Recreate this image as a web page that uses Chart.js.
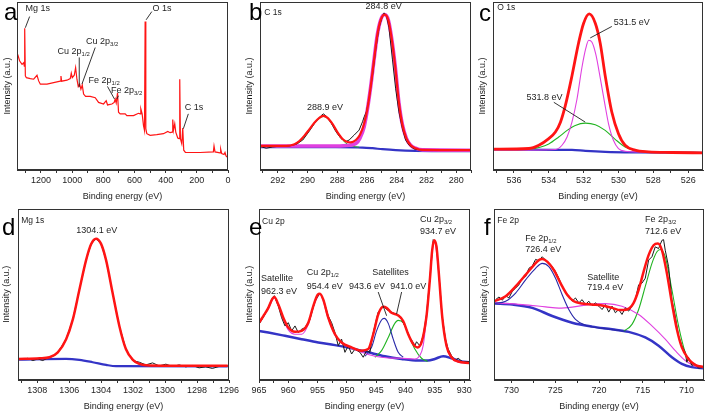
<!DOCTYPE html>
<html><head><meta charset="utf-8">
<script src="https://cdn.jsdelivr.net/npm/chart.js@4.4.0/dist/chart.umd.min.js"></script>
<style>
html,body{margin:0;padding:0;background:#fff;overflow:hidden;width:708px;height:414px;position:relative;}
.p{position:absolute;}
canvas{display:block;}
</style></head><body>
<div class="p" style="left:0;top:0"><canvas id="ca" width="250" height="207"></canvas></div>
<div class="p" style="left:236px;top:0"><canvas id="cb" width="250" height="207"></canvas></div>
<div class="p" style="left:472px;top:0"><canvas id="cc" width="236" height="207"></canvas></div>
<div class="p" style="left:0;top:207px"><canvas id="cd" width="250" height="207"></canvas></div>
<div class="p" style="left:236px;top:207px"><canvas id="ce" width="250" height="207"></canvas></div>
<div class="p" style="left:472px;top:207px"><canvas id="cf" width="236" height="207"></canvas></div>
<script>
// ---------- (a) survey ----------
const surveyE = [1349.5,1336.7,1321.7,1311,1306.8,1304.6,1300.4,1294,1268.3,1247,1225.6,1215,1204.3,1161.6,1118.9,1076.2,1071.9,1067.6,1033.5,1012.1,1005.7,999.3,986.5,977.9,969.4,960.9,952.3,943.8,935.2,926.7,913.9,884,852,830.6,798.6,781.5,773,745.2,730.3,723.9,717.4,708.9,702.5,691.8,659.8,649.1,606.4,574.4,563.7,559.4,550.9,542.4,535.9,531.7,527.4,521,499.7,456.9,414.3,386.5,371.5,358.7,354.5,350.2,341.7,335.2,322.5,313.9,309.6,305.4,296.8,290.4,284,273.3,179.4,94,89.7,83.3,51.3,47,40.6,25.6,19.2,12.8,0];
const surveyI = [116.7,110,106.7,108.3,105,143.3,95,93.3,92.3,91.7,95.7,90,86.7,86.7,88.3,89.7,95,89.7,90.7,92.3,97.7,93.3,95.7,103.3,91.7,84.3,86.7,81.7,85.7,76.7,74.3,74.3,73,68.3,66.7,70,65.7,66.7,68.3,71.7,67.7,77.7,58.3,56.7,56.7,55,55,57.3,56.7,61.7,56.7,45,40,150,41.7,36.7,35,35.7,36.7,39,37.7,38.3,51,40,46.7,38.3,32.3,31.7,91.7,31.7,26.7,42.3,20,17.7,17.7,18.3,24.3,18.3,17.3,21,16.7,15.7,17.7,14.3,12.3];

// ---------- (b) C 1s ----------
const c1sRawE = [293.18,292.78,292.34,291.89,291.22,290.77,290.32,289.88,289.43,289.1,288.94,288.76,288.43,288.09,287.76,287.42,287.2,286.86,286.53,286.3,286.19,286.04,285.86,285.63,285.41,285.19,284.96,284.85,284.69,284.52,284.29,284.07,283.85,283.62,283.4,283.18,282.84,282.51,281.39,279.02];
const c1sRawI = [23.7,22,23.3,24,24.3,26,30.3,39.3,49.3,54.7,56.7,54.7,48,38.7,32,28.7,30.3,35.3,40.3,48.7,53.7,58.7,72,95.3,122,143.7,155.3,158.7,156,143.7,112,82,58.7,42,30.3,25.3,21.3,20.3,20,19.7];
const c1sFitE = [293.18,291.44,290.88,290.55,290.21,289.88,289.54,289.21,288.94,288.65,288.31,287.98,287.64,287.31,287.09,286.75,286.48,286.19,285.97,285.74,285.52,285.3,285.07,284.81,284.56,284.34,284.11,283.85,283.62,283.35,283.06,282.73,282.28,279.02];
const c1sFitI = [24.3,24.3,26,29.3,34.7,41,47.7,52.7,54.7,52.7,46.3,38,31.3,28.3,28,30.3,35.3,47,62,85.3,112,137,152,157,151.3,133,106,68,46,32,25,22,20.3,20];
const c1sMainE = [293.18,288.09,287.2,286.75,286.48,286.19,285.97,285.74,285.52,285.3,285.07,284.81,284.56,284.34,284.11,283.85,283.62,283.35,283.06,282.73,282.28,279.02];
const c1sMainI = [24.3,24.3,25,26.7,32,43.7,61.3,85.3,112,137,152,157,151.3,133,106,68,46,32,25,22,20.3,20];
const c1sSideE = [293.18,291.44,290.88,290.55,290.21,289.88,289.54,289.21,288.94,288.65,288.31,287.98,287.64,287.31,286.97,286.53];
const c1sSideI = [23.3,23.3,25,28,33.7,40.3,47,52,54,52,45.3,37,30.3,26,24,23];
const c1sBgE = [293.18,288.09,286.3,285.63,284.96,284.07,282.73,279.02];
const c1sBgI = [23,23,22.7,22,21,20,19.3,19];

// ---------- (c) O 1s ----------
const o1sFitE = [537.14,535.14,534.57,534.0,533.62,533.33,533.05,532.67,532.29,532.0,531.68,531.33,531.05,530.76,530.38,530.0,529.62,529.05,528.28,526.95,525.14];
const o1sFitI = [21,21.7,25,31.7,38.3,48.3,65,95,128.3,148.3,157.7,148.3,128.3,95,58.3,36.7,25,20,18.3,17.7,17.3];
const o1sAE = [537.14,533.62,533.24,532.95,532.67,532.38,532.1,531.87,531.71,531.52,531.3,531.05,530.8,530.57,530.29,530.0,529.62,528.86,525.14];
const o1sAI = [20,20.7,25,33.3,48.3,71.7,103.3,123.3,131,129,116.7,93.3,68.3,46.7,30,21.7,19,18.3,17.7];
const o1sBE = [537.14,535.14,534.57,534.0,533.43,532.95,532.48,531.9,531.33,530.76,530.19,529.62,528.86,528.09,525.14];
const o1sBI = [20,20.7,22.7,26.3,33.3,40,45,47.3,45.7,40,31,23.3,19.3,18.3,17.7];
const o1sBgE = [537.14,532.67,531.9,530.76,528.86,525.14];
const o1sBgI = [20.7,20.3,19.3,18.3,17.7,17.3];

// ---------- (d) Mg 1s ----------
const mgFitE = [1309.21,1307.85,1307.23,1306.71,1306.19,1305.77,1305.36,1304.94,1304.63,1304.32,1304.01,1303.69,1303.28,1302.86,1302.45,1302.03,1301.61,1300.99,1296.08];
const mgFitI = [21.3,22,23,28,41.3,61.3,91.3,121.3,137.3,143,138,121.3,88,54.7,31.3,20.7,16.3,14.7,14.3];
const mgBgE = [1309.21,1306.19,1305.36,1304.53,1303.69,1303.07,1296.08];
const mgBgI = [20.7,21.3,20.3,18,15.3,14,13.7];
const mgRawE = [1309.21,1308.89,1308.58,1308.27,1307.96,1307.65,1307.33,1307.02,1306.71,1306.19,1305.77,1305.36,1304.94,1304.63,1304.32,1304.01,1303.69,1303.28,1302.86,1302.45,1302.03,1301.61,1301.2,1300.78,1300.37,1299.95,1299.53,1299.12,1298.7,1298.29,1297.87,1297.46,1297.04,1296.62,1296.08];
const mgRawI = [22,20.7,22,19.7,21.3,19.7,22.3,24,28,41.3,61.3,91.3,121.3,137.3,143,138,121.3,88,54.7,31.3,19.7,18,15.3,17.3,14.3,16,13.7,15.3,13.3,14.7,12.3,13.3,11.7,13.7,14.3];

// ---------- (e) Cu 2p ----------
const cuFitE = [965.0,964.26,963.41,962.73,962.39,961.7,960.85,960.0,958.86,957.73,956.59,955.74,955.0,954.6,954.03,953.18,952.04,950.91,949.2,947.5,946.36,945.51,944.66,943.81,943.24,942.39,941.25,940.4,939.54,938.69,937.95,937.27,936.42,935.85,935.45,935.11,934.71,934.32,933.75,933.01,932.16,931.02,929.15];
const cuFitI = [58,64.7,73,82,84,76.3,63,53,48.7,49.7,58,74.7,86.3,87.3,81.3,63,46.3,38,33,29.7,31.3,46.3,66.3,74,73,68,65.3,59.7,46.3,36.3,33,38,64.7,101.3,131.3,141.3,134.7,108,64.7,34.7,23,18.7,17.3];
const cuEnvE = [965.0,963.41,962.39,961.7,960.85,960.0,958.86,957.73,956.59,955.74,954.6,953.18,952.04,950.91,949.2,947.5,945.23,942.95,940.68,938.41,937.56,936.99,936.42,935.85,935.11,934.32,933.75,933.01,932.16,931.02,929.15];
const cuEnvI = [57.3,72,83,75.3,61.3,50.7,46.3,46.3,56.3,74,86.7,62,45.3,37.3,32,28,24,22.3,22,21.3,24.7,34.7,63,100.7,140.7,107.3,64,34,22.3,18,17];
const cuSatAE = [946.93,945.8,944.94,944.09,943.64,942.95,942.1,941.25,940.4];
const cuSatAI = [24,33,49.7,60.7,62.3,57.3,41.3,28,23];
const cuSatBE = [945.23,944.09,942.95,941.93,941.25,940.4,939.54,938.41,937.27,936.25];
const cuSatBI = [23,29.7,43,56.3,60.3,58,46.3,31.3,22,18.7];
const cuBgE = [965.0,963.41,960.57,957.73,954.89,952.04,949.2,946.36,943.52,940.68,937.84,936.14,935.0,933.58,932.16,930.45,929.15];
const cuBgI = [49.7,48,44.7,41.3,38,35.3,32,28,24,21.3,19.7,19.7,21.3,24,22,18.7,18];
const cuRawE = [965.0,963.98,962.84,962.39,961.7,961.14,960.57,960.0,959.43,958.86,958.3,957.73,957.16,956.31,955.45,954.6,954.03,953.18,952.61,952.04,951.48,950.91,950.34,949.77,949.2,948.64,947.78,947.22,946.65,946.08,945.51,944.66,943.81,943.24,942.39,941.53,940.97,940.4,939.83,939.26,938.69,938.41,938.12,937.56,936.99,936.42,935.85,935.28,934.71,934.32,933.75,933.18,932.73,932.16,931.59,931.02,930.17,929.15];
const cuRawI = [56.3,66.3,81.3,85.3,74.7,63,54.7,58,49.7,54.7,48,51.3,53,61.3,79.7,88,82,64.7,58,48,34.7,41.3,28,34.7,26.3,31.3,28,23,29.7,28,48,68.7,74.7,71.3,68.7,66.3,64.7,58,51.3,43,38,34.7,38.7,34.7,44.7,66.3,103,142,136.3,108,64.7,41.3,31.3,24.7,19.7,22,18,18.7];

// ---------- (f) Fe 2p ----------
const feFitE = [732.0,730.67,729.53,728.39,727.44,726.87,726.49,725.92,725.16,724.4,723.64,722.88,721.93,720.79,719.65,718.51,717.56,716.8,716.04,715.47,714.9,714.33,713.76,713.27,712.81,712.24,711.67,711.1,710.53,709.77,709.01,707.98];
const feFitI = [79.7,84.7,94.7,106.3,116.3,121.3,122.3,119.7,111.3,98,86.3,79.7,77.3,76.3,75.3,73,70.7,71.3,78,91.3,109.7,126.3,136.3,138,131.3,108,78,51.3,33,21.3,15.3,13];
const feAE = [732.0,730.67,729.53,728.39,727.25,726.49,725.73,724.97,724.21,723.45,722.69,721.55,720.03,718.51,717.0];
const feAI = [77.3,79.7,88,101.3,113,118,114.7,103,86.3,71.3,61.3,55.3,52.7,51,49.3];
const feSatE = [732.0,728.77,726.11,724.59,723.07,721.17,719.27,717.37,715.47,713.95,712.43,711.29,710.15,709.01,707.98];
const feSatI = [78,76.3,74,72.7,73.7,76.3,77.3,74.7,66.3,54.7,41.3,29.7,19.7,14,12.3];
const feBE = [717.18,716.23,715.47,714.71,713.95,713.38,713.0,712.43,711.67,710.91,710.15,709.39,707.98];
const feBI = [49.3,56.3,71.3,94.7,118,129.7,132,124.7,91.3,54.7,28,16.3,12.3];
const feBgE = [732.0,729.91,727.63,725.35,723.07,720.79,718.51,716.61,714.71,713.19,711.67,710.53,709.39,707.98];
const feBgI = [77.3,76.3,73,64.7,58,54,51.3,48.7,43,34.7,23,16.3,13,12];
const feRawE = [731.81,731.43,731.05,730.67,730.29,729.91,729.53,729.15,728.77,728.39,728.01,727.63,727.25,726.87,726.49,726.11,725.73,725.35,724.97,724.59,724.21,723.83,723.45,723.07,722.69,722.31,721.93,721.55,721.17,720.79,720.41,720.03,719.65,719.27,718.89,718.51,718.13,717.75,717.37,716.99,716.61,716.23,715.85,715.47,715.09,714.71,714.33,713.95,713.57,713.19,712.81,712.62,712.43,712.05,711.67,711.29,710.91,710.53,710.15,709.96,709.77,709.39,709.01,708.63,707.98];
const feRawI = [81.3,84,80.7,85.3,83,89.7,93,96.3,103,104.7,113,115.3,122,120.7,124.7,121.3,118.7,114.7,109.7,103,94.7,88.7,85.3,79.7,83,78,81.3,76.3,79.7,75.3,78,74.7,71.3,76.3,68.7,74.7,68,71.3,66.3,73,69.7,74.7,81.3,96.3,98,103,121.3,124.7,134.7,133,141.3,142,131.3,114.7,81.3,64.7,44.7,34.7,28,18,23,14.7,16.3,12,13];

// ---------- rendering ----------
const FONT = "'Liberation Sans', Arial, Helvetica, sans-serif";
const C = {red:'#ff1414', blue:'#3434c6', mag:'#e040e0', green:'#22b422', navy:'#2828a8', black:'#1a1a1a'};

function xy(E, I){ return E.map((e,i)=>({x:e, y:I[i]})); }
function ds(E, I, color, width, smooth, order){
  return {data:xy(E,I), borderColor:color, borderWidth:width, pointRadius:0, fill:false,
          tension: smooth?0.4:0, cubicInterpolationMode: smooth?'monotone':'default', order:order};
}
function drawRich(ctx, segs, x, y, align, size){
  const ws = segs.map(s=>{ ctx.font = (s[1]? size*0.66 : size)+'px '+FONT; return ctx.measureText(s[0]).width; });
  const tot = ws.reduce((a,b)=>a+b,0);
  let cx = align==='center' ? x - tot/2 : x;
  ctx.textAlign='left'; ctx.textBaseline='middle'; ctx.fillStyle='#1e1e1e';
  segs.forEach((s,i)=>{ ctx.font = (s[1]? size*0.66 : size)+'px '+FONT; ctx.fillText(s[0], cx, s[1]? y+size*0.3 : y); cx += ws[i]; });
}
function panelPlugin(cfg){
  return {
    id:'panel',
    afterDatasetsDraw(chart){
      const a = chart.chartArea, ctx = chart.ctx;
      ctx.save();
      ctx.strokeStyle='#333'; ctx.lineWidth=1;
      const l=Math.round(a.left)+0.5, t=Math.round(a.top)+0.5, r=Math.round(a.right)-0.5, b=Math.round(a.bottom)-0.5;
      ctx.strokeRect(l, t, r-l, b-t);
      ctx.restore();
    },
    afterDraw(chart){
      const a = chart.chartArea, ctx = chart.ctx, sx = chart.scales.x, sy = chart.scales.y;
      ctx.save();
      ctx.fillStyle='#000'; ctx.font='24px '+FONT; ctx.textAlign='left'; ctx.textBaseline='alphabetic';
      ctx.fillText(cfg.letter, cfg.letterPos[0], cfg.letterPos[1]);
      ctx.save();
      ctx.translate(cfg.yTitleX, (a.top+a.bottom)/2);
      ctx.rotate(-Math.PI/2);
      ctx.font='9px '+FONT; ctx.fillStyle='#1e1e1e'; ctx.textAlign='center'; ctx.textBaseline='middle';
      ctx.fillText('Intensity (a.u.)', 0, 0);
      ctx.restore();
      ctx.strokeStyle='#1e1e1e'; ctx.lineWidth=0.9;
      (cfg.lines||[]).forEach(L=>{
        ctx.beginPath();
        ctx.moveTo(sx.getPixelForValue(L[0]), sy.getPixelForValue(L[1]));
        ctx.lineTo(sx.getPixelForValue(L[2]), sy.getPixelForValue(L[3]));
        ctx.stroke();
      });
      (cfg.texts||[]).forEach(T=>{
        drawRich(ctx, T.segs, sx.getPixelForValue(T.x), sy.getPixelForValue(T.y), T.align, T.size||9);
      });
      ctx.restore();
    }
  };
}
function isMajor(v, m){ const q = v/m; return Math.abs(q-Math.round(q))<1e-6; }
function makeChart(id, cfg){
  return new Chart(document.getElementById(id), {
    type:'line',
    data:{datasets:cfg.datasets},
    options:{
      responsive:false, animation:false, devicePixelRatio:1, events:[],
      layout:{padding:cfg.pad},
      plugins:{legend:{display:false}, tooltip:{enabled:false}},
      scales:{
        x:{type:'linear', reverse:true, min:cfg.min, max:cfg.max, offset:false,
           ticks:{stepSize:cfg.step, autoSkip:false, maxRotation:0, minRotation:0, padding:2, includeBounds:false,
                  color:'#1e1e1e', font:{family:FONT, size:9},
                  callback:(v)=> isMajor(v, cfg.major) ? String(Math.round(v)) : ''},
           grid:{display:true, drawOnChartArea:false, drawTicks:true, tickLength:3, color:'#333', tickColor:'#333', tickWidth:1},
           border:{display:true, color:'#333', width:1},
           title:{display:true, text:'Binding energy (eV)', color:'#1e1e1e', font:{family:FONT, size:9}, padding:{top:3, bottom:0}}
        },
        y:{type:'linear', display:false, min:0, max:cfg.ymax}
      }
    },
    plugins:[panelPlugin(cfg)]
  });
}
const sub = (t)=>[t,true], txt=(t)=>[t,false];

// (a)
makeChart('ca', {
  letter:'a', letterPos:[4,20], yTitleX:7.5,
  pad:{left:17, right:22, top:2, bottom:5.4}, ymax:169.7,
  min:0, max:1354, step:100, major:200,
  datasets:[ ds(surveyE, surveyI, C.red, 1.2, false, 0) ],
  texts:[
    {x:1220.5, y:163.4, segs:[txt('Mg 1s')], align:'center'},
    {x:807.3, y:130, segs:[txt('Cu 2p'), sub('3/2')], align:'center'},
    {x:989.9, y:119.4, segs:[txt('Cu 2p'), sub('1/2')], align:'center'},
    {x:794.5, y:90.7, segs:[txt('Fe 2p'), sub('1/2')], align:'center'},
    {x:650.4, y:80, segs:[txt('Fe 2p'), sub('3/2')], align:'center'},
    {x:422.9, y:163.4, segs:[txt('O 1s')], align:'center'},
    {x:217.9, y:63.4, segs:[txt('C 1s')], align:'center'}
  ],
  lines:[[1300.6,143.7,1273,155],[852,123.7,937.4,86.7],[954.6,113.7,954.6,83.7],[773.3,84.4,728.5,71.7],[702.9,75,713.1,71.7],[525.4,151.7,488.9,160],[286.5,41.7,254.5,56.7]]
});
// (b)
makeChart('cb', {
  letter:'b', letterPos:[13,20], yTitleX:14,
  pad:{left:24, right:15, top:2, bottom:5.4}, ymax:169.7,
  min:279, max:293.2, step:1, major:2,
  datasets:[
    ds(c1sFitE, c1sFitI, C.red, 2.2, true, 0),
    ds(c1sRawE, c1sRawI, C.black, 1, false, 1),
    ds(c1sMainE, c1sMainI, C.mag, 3.6, true, 2),
    ds(c1sSideE, c1sSideI, C.green, 1, true, 3),
    ds(c1sBgE, c1sBgI, C.blue, 2.2, true, 4)
  ],
  texts:[
    {x:292.92, y:158.7, segs:[txt('C 1s')], align:'left', size:8.5},
    {x:284.88, y:165, segs:[txt('284.8 eV')], align:'center'},
    {x:288.83, y:63.4, segs:[txt('288.9 eV')], align:'center'}
  ],
  lines:[]
});
// (c)
makeChart('cc', {
  letter:'c', letterPos:[7,20.5], yTitleX:11,
  pad:{left:21, right:5, top:2, bottom:5.4}, ymax:169.7,
  min:525.15, max:537.2, step:1, major:2,
  datasets:[
    ds(o1sFitE, o1sFitI, C.red, 2.8, true, 0),
    ds(o1sAE, o1sAI, C.mag, 1.1, true, 1),
    ds(o1sBE, o1sBI, C.green, 1.1, true, 2),
    ds(o1sBgE, o1sBgI, C.blue, 2.2, true, 3)
  ],
  texts:[
    {x:536.95, y:163.7, segs:[txt('O 1s')], align:'left', size:8.5},
    {x:529.24, y:149, segs:[txt('531.5 eV')], align:'center'},
    {x:534.24, y:73.4, segs:[txt('531.8 eV')], align:'center'}
  ],
  lines:[[530.38,145,531.62,133.4],[533.71,68.4,531.91,48.4]]
});
// (d)
makeChart('cd', {
  letter:'d', letterPos:[2,28.3], yTitleX:7,
  pad:{left:18, right:21, top:1.5, bottom:2.4}, ymax:173.5,
  min:1296, max:1309.2, step:1, major:2,
  datasets:[
    ds(mgFitE, mgFitI, C.red, 2.5, true, 0),
    ds(mgRawE, mgRawI, C.black, 1, false, 1),
    ds(mgBgE, mgBgI, C.blue, 2.2, true, 2)
  ],
  texts:[
    {x:1309.0, y:161, segs:[txt('Mg 1s')], align:'left', size:8.5},
    {x:1304.27, y:151, segs:[txt('1304.1 eV')], align:'center'}
  ],
  lines:[]
});
// (e)
makeChart('ce', {
  letter:'e', letterPos:[13,28], yTitleX:14,
  pad:{left:23, right:16, top:1.5, bottom:2.4}, ymax:173.5,
  min:929, max:965, step:2.5, major:5,
  datasets:[
    ds(cuFitE, cuFitI, C.red, 2.5, true, 0),
    ds(cuRawE, cuRawI, C.black, 1, false, 1),
    ds(cuEnvE, cuEnvI, C.mag, 1.1, true, 2),
    ds(cuSatAE, cuSatAI, C.navy, 1.1, true, 3),
    ds(cuSatBE, cuSatBI, C.green, 1.1, true, 4),
    ds(cuBgE, cuBgI, C.blue, 2.5, true, 5)
  ],
  texts:[
    {x:964.49, y:160, segs:[txt('Cu 2p')], align:'left', size:8.5},
    {x:964.66, y:102.3, segs:[txt('Satellite')], align:'left'},
    {x:964.66, y:90, segs:[txt('962.3 eV')], align:'left'},
    {x:956.87, y:108.3, segs:[txt('Cu 2p'), sub('1/2')], align:'left'},
    {x:956.87, y:95, segs:[txt('954.4 eV')], align:'left'},
    {x:942.58, y:108.3, segs:[txt('Satellites')], align:'center'},
    {x:946.59, y:94.3, segs:[txt('943.6 eV')], align:'center'},
    {x:939.55, y:94.3, segs:[txt('941.0 eV')], align:'center'},
    {x:937.55, y:162.3, segs:[txt('Cu 2p'), sub('3/2')], align:'left'},
    {x:937.55, y:150, segs:[txt('934.7 eV')], align:'left'}
  ],
  lines:[[944.66,89,943.23,65],[940.67,89,941.53,66.7]]
});
// (f)
makeChart('cf', {
  letter:'f', letterPos:[12,28], yTitleX:12.7,
  pad:{left:22, right:4, top:1.5, bottom:2.4}, ymax:173.5,
  min:708, max:732, step:2.5, major:5,
  datasets:[
    ds(feFitE, feFitI, C.red, 2.5, true, 0),
    ds(feRawE, feRawI, C.black, 1, false, 1),
    ds(feAE, feAI, C.navy, 1.1, true, 2),
    ds(feSatE, feSatI, C.mag, 1.1, true, 3),
    ds(feBE, feBI, C.green, 1.1, true, 4),
    ds(feBgE, feBgI, C.blue, 2.5, true, 5)
  ],
  texts:[
    {x:731.62, y:161, segs:[txt('Fe 2p')], align:'left', size:8.5},
    {x:728.43, y:143.3, segs:[txt('Fe 2p'), sub('1/2')], align:'left'},
    {x:728.43, y:131.7, segs:[txt('726.4 eV')], align:'left'},
    {x:721.35, y:103.3, segs:[txt('Satellite')], align:'left'},
    {x:721.35, y:93.3, segs:[txt('719.4 eV')], align:'left'},
    {x:714.73, y:162.3, segs:[txt('Fe 2p'), sub('3/2')], align:'left'},
    {x:714.73, y:150, segs:[txt('712.6 eV')], align:'left'}
  ],
  lines:[]
});
</script>
</body></html>
